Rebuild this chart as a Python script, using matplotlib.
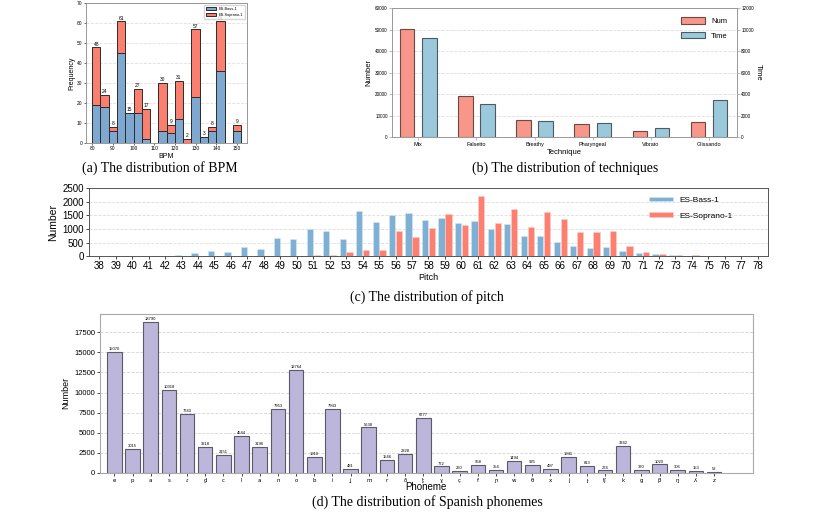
import matplotlib
matplotlib.use("Agg")
import matplotlib.pyplot as plt
import numpy as np

plt.rcParams['font.family'] = ['Liberation Sans', 'DejaVu Sans']

# ---- (a) BPM distribution ----
bpm_left = [80, 84, 88, 92, 96, 100, 104, 108, 112, 116, 120, 124, 128, 132, 136, 140, 144, 148]
bpm_bass = [19, 18, 6, 45, 15, 15, 2, 0, 6, 5, 12, 0, 23, 3, 6, 36, 0, 6]
bpm_soprano = [29, 6, 2, 16, 0, 12, 15, 0, 24, 4, 19, 2, 34, 0, 2, 25, 0, 3]

# ---- (b) techniques ----
techniques = ["Mix", "Falsetto", "Breathy", "Pharyngeal", "Vibrato", "Glissando"]
tech_num = [50300, 19400, 8000, 6200, 2900, 7200]
tech_time = [9220, 3080, 1530, 1310, 900, 3480]

# ---- (c) pitch ----
pitches = list(range(38, 79))
pitch_bass = [0, 5, 5, 10, 15, 40, 110, 195, 170, 325, 270, 660, 645, 1000, 940, 645,
              1680, 1270, 1500, 1585, 1320, 1410, 1210, 1280, 990, 1200, 750, 750, 525,
              390, 315, 355, 195, 110, 70, 45, 25, 10, 0, 0, 0]
pitch_soprano = [0, 0, 0, 0, 5, 5, 5, 0, 0, 0, 0, 0, 0, 40, 40, 150,
                 225, 245, 930, 700, 1040, 1560, 1165, 2230, 1235, 1740, 1090, 1630, 1370,
                 880, 880, 915, 390, 170, 85, 60, 35, 10, 0, 0, 0]

# ---- (d) phonemes ----
phonemes = ["e", "p", "a", "s", "ɾ", "d̪", "c", "l", "a", "n", "o", "b", "i", "ʝ", "m", "r",
            "ð", "t̪", "ɣ", "ç", "f", "ɲ", "w", "θ", "x", "j", "ɟ", "tʃ", "k", "ɡ", "β",
            "ŋ", "ʎ", "z"]
phoneme_counts = [15070, 3015, 18790, 10318, 7343, 3218, 2151, 4544, 3196, 7953, 12764,
                  1910, 7943, 481, 5638, 1546, 2328, 6777, 772, 260, 958, 354, 1494, 925,
                  497, 1941, 813, 274, 3342, 370, 1020, 306, 153, 52]

fig = plt.figure(figsize=(8.3, 5.14), dpi=100)
serif = ['Liberation Serif', 'DejaVu Serif']

def dash_grid(ax, col='#d9d9d9'):
    ax.yaxis.grid(True, linestyle='--', color=col, lw=0.6)
    ax.set_axisbelow(True)

# (a)
ax1 = fig.add_axes([0.1036, 0.7224, 0.1943, 0.2712])
blue_a = '#7ea8cf'
red_a = '#fa7f6f'
ax1.bar(bpm_left, bpm_bass, width=4, align='edge', color=blue_a, edgecolor='#2b2b2b', lw=0.7,
        label='ES-Bass-1')
ax1.bar(bpm_left, bpm_soprano, width=4, align='edge', bottom=bpm_bass, color=red_a,
        edgecolor='#2b2b2b', lw=0.7, label='ES-Soprano-1')
for x, b, s in zip(bpm_left, bpm_bass, bpm_soprano):
    if b + s > 0:
        ax1.text(x + 2, b + s + 0.3, str(b + s), ha='center', va='bottom', fontsize=3.5)
ax1.set_xlim(77, 155)
ax1.set_ylim(0, 70)
ax1.set_xticks(range(80, 160, 10))
ax1.set_yticks(range(0, 80, 10))
ax1.tick_params(labelsize=3.5, length=1.5, width=0.4, pad=1)
ax1.set_xlabel('BPM', fontsize=5, labelpad=1.5)
ax1.set_ylabel('Frequency', fontsize=5, labelpad=1.5)
dash_grid(ax1, '#e0e0e0')
for sp in ax1.spines.values():
    sp.set_color('#888888')
    sp.set_linewidth(0.6)
ax1.legend(loc='upper right', fontsize=2.8, frameon=True, handlelength=2.5, borderpad=0.5,
           fancybox=False, edgecolor='#cccccc')

# (b)
ax2 = fig.add_axes([0.4723, 0.7329, 0.4157, 0.2510])
ax2r = ax2.twinx()
xb = np.arange(len(techniques))
ax2.bar(xb - 0.19, tech_num, width=0.25, color='#f8968a', edgecolor='#6b4a46', lw=0.8,
        label='Num')
ax2r.bar(xb + 0.19, tech_time, width=0.25, color='#9ac9dc', edgecolor='#4d5a60', lw=0.8,
         label='Time')
ax2.set_xlim(-0.45, 5.48)
ax2.set_ylim(0, 60000)
ax2r.set_ylim(0, 12000)
ax2.set_yticks(range(0, 70000, 10000))
ax2r.set_yticks(range(0, 14000, 2000))
ax2.set_xticks(xb)
ax2.set_xticklabels(techniques)
ax2.tick_params(axis='y', labelsize=3.3, length=2, width=0.4, pad=1, color='#888888')
ax2r.tick_params(axis='y', labelsize=3.3, length=2, width=0.4, pad=1, color='#888888')
ax2.tick_params(axis='x', labelsize=4, length=2, width=0.4, pad=1.5, color='#888888')
ax2.set_xlabel('Technique', fontsize=5.5, labelpad=1)
ax2.set_ylabel('Number', fontsize=5.5, labelpad=2)
ax2r.set_ylabel('Time', fontsize=5.5, rotation=-90, labelpad=6)
dash_grid(ax2, '#dddddd')
for a in (ax2, ax2r):
    for sp in a.spines.values():
        sp.set_color('#999999')
        sp.set_linewidth(0.6)
h1, l1 = ax2.get_legend_handles_labels()
h2, l2 = ax2r.get_legend_handles_labels()
ax2.legend(h1 + h2, l1 + l2, loc='upper right', fontsize=5.5, frameon=False,
           handlelength=3.2, handleheight=1.0, borderaxespad=0.8, labelspacing=0.8)

# (c)
ax3 = fig.add_axes([0.1072, 0.5014, 0.8181, 0.1323])
xp = np.array(pitches)
ax3.bar(xp - 0.21, pitch_bass, width=0.38, color='#7eb0d5', edgecolor='#d6e6f2', lw=0.4,
        label='ES-Bass-1')
ax3.bar(xp + 0.21, pitch_soprano, width=0.38, color='#fd7f6f', edgecolor='#fdd0c9', lw=0.4,
        label='ES-Soprano-1')
ax3.set_xlim(37.38, 78.62)
ax3.set_ylim(0, 2500)
ax3.set_xticks(pitches)
ax3.set_yticks(range(0, 3000, 500))
ax3.tick_params(labelsize=7, length=2, width=0.5, pad=1.5)
ax3.set_xlabel('Pitch', fontsize=6.5, labelpad=1)
ax3.set_ylabel('Number', fontsize=7.5, labelpad=3)
dash_grid(ax3, '#dddddd')
for sp in ax3.spines.values():
    sp.set_color('#555555')
    sp.set_linewidth(0.7)
ax3.legend(loc='upper right', fontsize=6, frameon=False, handlelength=2.8, handleheight=0.5,
           borderaxespad=0.6, labelspacing=1.0, bbox_to_anchor=(0.96, 1.0))

# (d)
ax4 = fig.add_axes([0.1205, 0.0804, 0.7864, 0.3088])
xd = np.arange(len(phonemes))
bars = ax4.bar(xd, phoneme_counts, width=0.8, color='#bcb6da', edgecolor='#5a5a6a', lw=0.8)
for x, v in zip(xd, phoneme_counts):
    ax4.text(x, v + 120, str(v), ha='center', va='bottom', fontsize=3.0)
ax4.set_xlim(-0.79, 35.13)
ax4.set_ylim(0, 19800)
ax4.set_xticks(xd)
ax4.set_xticklabels(phonemes, fontsize=4, family=['DejaVu Sans'])
ax4.set_yticks(range(0, 20000, 2500))
ax4.tick_params(axis='y', labelsize=5.5, length=2, width=0.5, pad=1.5)
ax4.tick_params(axis='x', length=2, width=0.5, pad=2)
ax4.set_xlabel('Phoneme', fontsize=7, labelpad=-1)
ax4.set_ylabel('Number', fontsize=6.5, labelpad=3)
dash_grid(ax4, '#d5d5d5')
for sp in ax4.spines.values():
    sp.set_color('#aaaaaa')
    sp.set_linewidth(0.8)

# captions
fig.text(160 / 830, 1 - 168 / 514, '(a) The distribution of BPM', ha='center', va='center',
         fontsize=10, family=serif)
fig.text(565 / 830, 1 - 168 / 514, '(b) The distribution of techniques', ha='center',
         va='center', fontsize=10, family=serif)
fig.text(427 / 830, 1 - 297 / 514, '(c) The distribution of pitch', ha='center', va='center',
         fontsize=10, family=serif)
fig.text(427 / 830, 1 - 502 / 514, '(d) The distribution of Spanish phonemes', ha='center',
         va='center', fontsize=10, family=serif)

fig.savefig('out.png', dpi=100)
